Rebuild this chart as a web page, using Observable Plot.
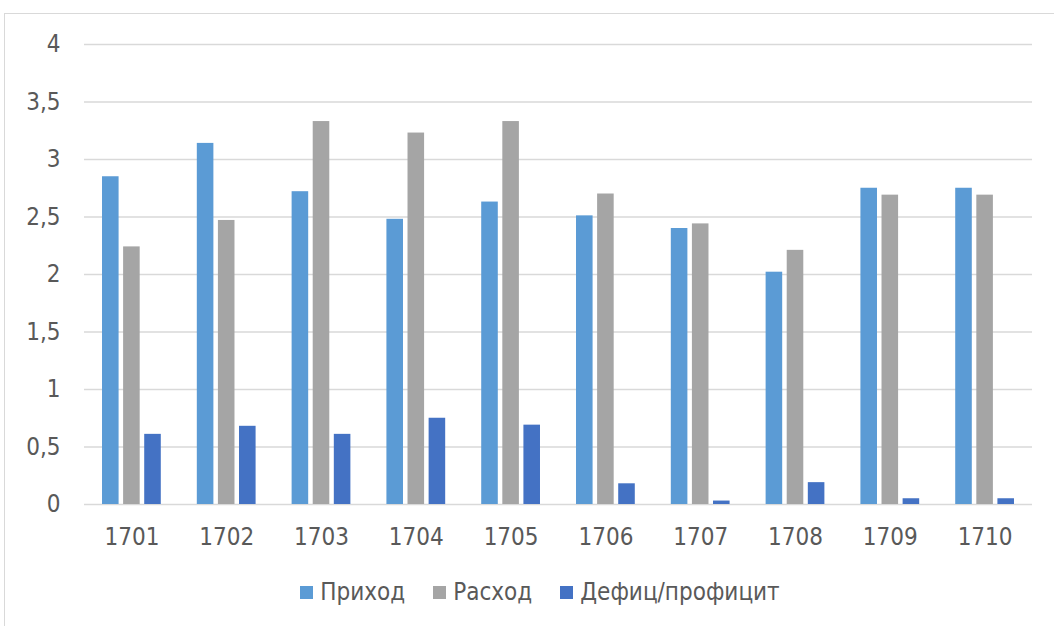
<!DOCTYPE html>
<html>
<head>
<meta charset="utf-8">
<script src="https://cdn.jsdelivr.net/npm/d3@7"></script>
<script src="https://cdn.jsdelivr.net/npm/@observablehq/plot@0.6"></script>
<style>
  html, body { margin: 0; padding: 0; background: #fff; width: 1054px; height: 626px; overflow: hidden; }
  #frame { position: absolute; left: 4px; top: 13px; width: 1200px; height: 800px; border: 1px solid #d9d9d9; }
  #chart { position: absolute; left: 0; top: 0; }
  #legend { position: absolute; left: 0; width: 1054px; top: 578px; display: flex; justify-content: center; padding-left: 26px; box-sizing: border-box;
            font-family: "Liberation Sans Narrow", "DejaVu Sans Condensed", "DejaVu Sans", sans-serif; font-stretch: condensed; font-size: 24px; color: #595959; }
  .item { display: flex; align-items: center; margin: 0 14px; }
  .sw { width: 13px; height: 13px; margin-right: 7px; }
</style>
</head>
<body>
<div id="frame"></div>
<div id="chart"></div>
<div id="legend"></div>
<script>
const years = ["1701","1702","1703","1704","1705","1706","1707","1708","1709","1710"];
const seriesNames = ["Приход", "Расход", "Дефиц/профицит"];
const income  = [2.85, 3.14, 2.72, 2.48, 2.63, 2.51, 2.40, 2.02, 2.75, 2.75];
const expense = [2.24, 2.47, 3.33, 3.23, 3.33, 2.70, 2.44, 2.21, 2.69, 2.69];
const deficit = [0.61, 0.68, 0.61, 0.75, 0.69, 0.18, 0.03, 0.19, 0.05, 0.05];
const yTicks = [0, 0.5, 1, 1.5, 2, 2.5, 3, 3.5, 4];
const colors = ["#5B9BD5", "#A5A5A5", "#4472C4"];

const seriesValues = [income, expense, deficit];
const data = [];
years.forEach((yr, i) => {
  seriesNames.forEach((s, j) => data.push({year: yr, series: s, value: seriesValues[j][i]}));
});

const fmt = d => String(d).replace(".", ",");

// bar placement within each year's band (style only): slot = bar width + gap
const slot = 21.1;

const chart = Plot.plot({
  width: 1054,
  height: 565,
  marginLeft: 84,
  marginRight: 22,
  marginTop: 44,
  marginBottom: 61,
  style: { fontFamily: '"Liberation Sans Narrow", "DejaVu Sans Condensed", "DejaVu Sans", sans-serif', fontSize: "24px", color: "#595959", background: "transparent", fontStretch: "condensed" },
  x: { domain: years, paddingInner: 0.38, paddingOuter: 0.19, round: false, label: null, tickSize: 0, tickPadding: 23 },
  y: { domain: [0, 4], ticks: yTicks, tickFormat: fmt, tickSize: 0, tickPadding: 24, label: null },
  color: { domain: seriesNames, range: colors },
  marks: [
    Plot.ruleY(yTicks, { stroke: "#d9d9d9", strokeWidth: 1.6 }),
    ...seriesNames.map((s, j) =>
      Plot.barY(data.filter(d => d.series === s), {
        x: "year", y: "value", fill: "series",
        insetLeft: j * slot,
        insetRight: (2 - j) * slot
      })
    )
  ]
});
document.getElementById("chart").appendChild(chart);

const legend = document.getElementById("legend");
seriesNames.forEach((s, j) => {
  const it = document.createElement("div");
  it.className = "item";
  const sw = document.createElement("span");
  sw.className = "sw";
  sw.style.background = colors[j];
  const t = document.createElement("span");
  t.textContent = s;
  it.appendChild(sw); it.appendChild(t);
  legend.appendChild(it);
});
</script>
</body>
</html>
